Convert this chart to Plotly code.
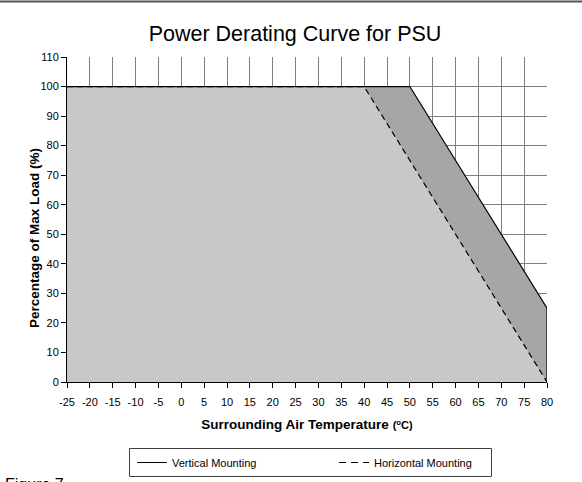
import plotly.graph_objects as go

# Data
vert_temp = [-25, 50, 80]
vert_load = [100, 100, 25]
horiz_temp = [-25, 40, 80]
horiz_load = [100, 100, 0]
x_ticks = list(range(-25, 81, 5))
y_ticks = list(range(0, 111, 10))

W, H = 582, 482
L, R, T, B = 67, 35, 57, 100
pw, ph = W - L - R, H - T - B


def px_x(p):
    return (p - L) / pw


def px_y(p):
    return (T + ph - p) / ph


fig = go.Figure()
# Dark fill under vertical mounting curve
fig.add_trace(go.Scatter(x=vert_temp, y=vert_load, mode="lines", fill="tozeroy",
                         fillcolor="#a6a6a6", line=dict(color="rgba(0,0,0,0)", width=1),
                         showlegend=False, hoverinfo="skip"))
# Light fill under horizontal mounting curve
fig.add_trace(go.Scatter(x=horiz_temp, y=horiz_load, mode="lines", fill="tozeroy",
                         fillcolor="#c8c8c8", line=dict(color="rgba(0,0,0,0)", width=1),
                         showlegend=False, hoverinfo="skip"))
# Lines on top: dashed first, solid after
fig.add_trace(go.Scatter(x=horiz_temp, y=horiz_load, mode="lines",
                         line=dict(color="black", width=1.2, dash="6px,4px"), showlegend=False))
fig.add_trace(go.Scatter(x=vert_temp, y=vert_load, mode="lines",
                         line=dict(color="black", width=1.2), showlegend=False))
# Right edge of the shaded area at the last temperature
fig.add_trace(go.Scatter(x=[vert_temp[-1], vert_temp[-1]], y=[vert_load[-1], horiz_load[-1]],
                         mode="lines", line=dict(color="black", width=1.2), showlegend=False))
# Legend entries
fig.add_trace(go.Scatter(x=[None], y=[None], mode="lines", name="Vertical Mounting",
                         line=dict(color="black", width=1)))
fig.add_trace(go.Scatter(x=[None], y=[None], mode="lines", name="Horizontal Mounting",
                         line=dict(color="black", width=1, dash="7px,5px")))

fig.update_layout(
    width=W, height=H,
    margin=dict(l=L, r=R, t=T, b=B, autoexpand=False),
    paper_bgcolor="white", plot_bgcolor="white",
    font=dict(family="Liberation Sans, Arial, sans-serif", color="black", size=11),
    title=dict(text="Power Derating Curve for PSU", font=dict(size=21.5, color="black"),
               x=295 / W, xref="container", xanchor="center",
               y=1 - 33 / H, yref="container", yanchor="middle"),
    showlegend=True,
    legend=dict(orientation="h", x=px_x(132), xanchor="left",
                y=px_y(462.5), yanchor="middle",
                borderwidth=0, bgcolor="rgba(0,0,0,0)",
                font=dict(size=11), entrywidth=157, itemwidth=30),
    xaxis=dict(range=[-25, 80], tickvals=x_ticks, ticktext=[str(v) for v in x_ticks],
               showgrid=True, gridcolor="#7f7f7f", gridwidth=1, zeroline=False,
               showline=True, linecolor="black", linewidth=1,
               ticks="outside", ticklen=5, tickcolor="black", ticklabelstandoff=5,
               tickfont=dict(size=11),
               title=dict(text="<b>Surrounding Air Temperature </b><span style='font-size:11px'><b>(<sup>o</sup>C)</b></span>",
                          font=dict(size=13.5), standoff=12)),
    yaxis=dict(range=[0, 110], tickvals=y_ticks,
               showgrid=True, gridcolor="#7f7f7f", gridwidth=1, zeroline=False,
               showline=True, linecolor="black", linewidth=1,
               ticks="outside", ticklen=5, tickcolor="black",
               tickfont=dict(size=11)),
    shapes=[
        dict(type="line", xref="paper", yref="paper",
             x0=px_x(0), x1=px_x(W), y0=px_y(1.5), y1=px_y(1.5),
             line=dict(color="#555555", width=2)),
        dict(type="rect", xref="paper", yref="paper",
             x0=px_x(129.5), x1=px_x(491.5), y0=px_y(448.5), y1=px_y(476.5),
             line=dict(color="#404040", width=1), fillcolor="rgba(0,0,0,0)"),
    ],
    annotations=[
        dict(text="<b>Percentage of Max Load (%)</b>", xref="paper", yref="paper",
             x=px_x(35), xanchor="center", y=px_y(238), yanchor="middle",
             textangle=-90, showarrow=False, font=dict(size=13.5, color="black")),
        dict(text="Figure 7", xref="paper", yref="paper",
             x=px_x(3), xanchor="left", y=px_y(474), yanchor="top",
             showarrow=False, font=dict(size=16, color="black")),
    ],
)

fig.write_html("out.html", config={"displayModeBar": False},
               post_script="document.body.style.margin='0';document.body.style.overflow='hidden';")
